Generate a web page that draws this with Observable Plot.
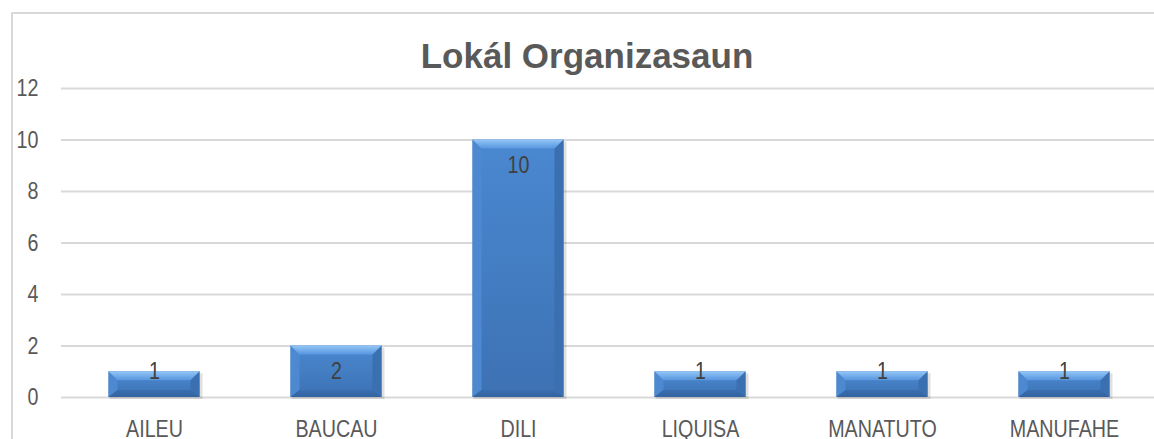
<!DOCTYPE html>
<html>
<head>
<meta charset="utf-8">
<script src="https://cdn.jsdelivr.net/npm/d3@7"></script>
<script src="https://cdn.jsdelivr.net/npm/@observablehq/plot@0.6"></script>
<style>
  html, body { margin: 0; padding: 0; background: #fff; }
  #wrap { position: relative; width: 1154px; height: 439px; overflow: hidden; background: #fff; }
  #border { position: absolute; left: 11px; top: 12px; width: 1300px; height: 600px;
            border-left: 2px solid #d9d9d9; border-top: 2px solid #d9d9d9; box-sizing: border-box; }
  #title { position: absolute; left: 0; top: 38px; width: 1174px; text-align: center;
           font-family: "Liberation Sans", Arial, sans-serif; font-weight: bold; font-size: 35px;
           line-height: 35px; color: #595959; }
  #chart { position: absolute; left: 0; top: 0; }
</style>
</head>
<body>
<div id="wrap">
  <div id="border"></div>
  <div id="chart"></div>
  <div id="title">Lokál Organizasaun</div>
</div>
<script>
const categories = ["AILEU", "BAUCAU", "DILI", "LIQUISA", "MANATUTO", "MANUFAHE"];
const values = [1, 2, 10, 1, 1, 1];
const yTicks = [0, 2, 4, 6, 8, 10, 12];

const data = categories.map((c, i) => ({cat: c, v: values[i]}));
const labelFont = "'Liberation Sans', Arial, sans-serif";
const padInner = 0.5;
const narrow = 0.82; // condensed look of the original's labels

const ns = "http://www.w3.org/2000/svg";
function defsMark() {
  const g = document.createElementNS(ns, "g");
  g.innerHTML = `
  <defs>
    <linearGradient id="gFront" x1="0" x2="0" y1="0" y2="1">
      <stop offset="0" stop-color="#4a88d0"/>
      <stop offset="1" stop-color="#3d72b4"/>
    </linearGradient>
    <linearGradient id="gTop" x1="0" x2="0" y1="0" y2="1">
      <stop offset="0" stop-color="#97c7f5"/>
      <stop offset="0.4" stop-color="#7ab2ee"/>
      <stop offset="1" stop-color="#5896dd"/>
    </linearGradient>
    <linearGradient id="gBot" x1="0" x2="0" y1="0" y2="1">
      <stop offset="0" stop-color="#3b6eaf"/>
      <stop offset="1" stop-color="#33639f"/>
    </linearGradient>
  </defs>`;
  return g;
}

// bevelled bars, positioned through Plot's own x and y scales
function bevelBars(index, scales) {
  const g = document.createElementNS(ns, "g");
  const sx = scales.x, sy = scales.y;
  const step = Math.abs(sx(categories[1]) - sx(categories[0]));
  let bw = typeof sx.bandwidth === "function" ? sx.bandwidth() : +sx.bandwidth || 0;
  let centered = false;
  if (!(bw > 0)) { bw = step * (1 - padInner); centered = true; }
  const b = 9, bb = 7;
  const poly = (pts, fill) => {
    const p = document.createElementNS(ns, "polygon");
    p.setAttribute("points", pts.map(q => q.join(",")).join(" "));
    p.setAttribute("fill", fill);
    g.appendChild(p);
  };
  for (const d of data) {
    const x0 = centered ? sx(d.cat) - bw / 2 : sx(d.cat), x1 = x0 + bw;
    const yt = sy(d.v), yb = sy(0);
    const s = document.createElementNS(ns, "rect");
    s.setAttribute("x", x0 + 1); s.setAttribute("y", yt + 2);
    s.setAttribute("width", bw + 2); s.setAttribute("height", yb - yt);
    s.setAttribute("fill", "#000"); s.setAttribute("fill-opacity", "0.12");
    g.appendChild(s);
    const r = document.createElementNS(ns, "rect");
    r.setAttribute("x", x0); r.setAttribute("y", yt);
    r.setAttribute("width", bw); r.setAttribute("height", yb - yt);
    r.setAttribute("fill", "url(#gFront)");
    g.appendChild(r);
    poly([[x0, yt], [x0 + b, yt + b], [x0 + b, yb - bb], [x0, yb]], "#4c89d0");
    poly([[x1, yt], [x1 - b, yt + b], [x1 - b, yb - bb], [x1, yb]], "#3a6fb0");
    poly([[x0, yb], [x0 + b, yb - bb], [x1 - b, yb - bb], [x1, yb]], "url(#gBot)");
    poly([[x0, yt], [x1, yt], [x1 - b, yt + b], [x0 + b, yt + b]], "url(#gTop)");
  }
  return g;
}

const chart = Plot.plot({
  width: 1154,
  height: 439,
  marginLeft: 61,
  marginRight: 0,
  marginTop: 88,
  marginBottom: 42,
  style: {fontFamily: labelFont, fontSize: "24px", color: "#595959", background: "transparent", overflow: "visible"},
  x: {domain: categories, range: [61, 1157], paddingInner: padInner, paddingOuter: padInner / 2, axis: null, label: null},
  y: {domain: [0, 12], range: [397, 88], axis: null, label: null},
  marks: [
    defsMark,
    Plot.gridY(yTicks, {stroke: "#d9d9d9", strokeOpacity: 1, strokeWidth: 2}),
    Plot.axisY({ticks: yTicks, tickSize: 0, tickPadding: 23, fill: "#595959", fontSize: 24, label: null}),
    Plot.axisX({tickSize: 0, tickPadding: 22, fill: "#595959", fontSize: 24, label: null}),
    bevelBars,
    Plot.text(data, {x: "cat", y: d => Math.max(d.v - 1, 1), text: d => String(d.v), fill: "#404040", fontSize: 24})
  ]
});
document.getElementById("chart").appendChild(chart);
chart.querySelectorAll("text").forEach(t => {
  const L = t.getComputedTextLength();
  if (L > 0) {
    t.setAttribute("textLength", (L * narrow).toFixed(2));
    t.setAttribute("lengthAdjust", "spacingAndGlyphs");
  }
});
</script>
</body>
</html>
